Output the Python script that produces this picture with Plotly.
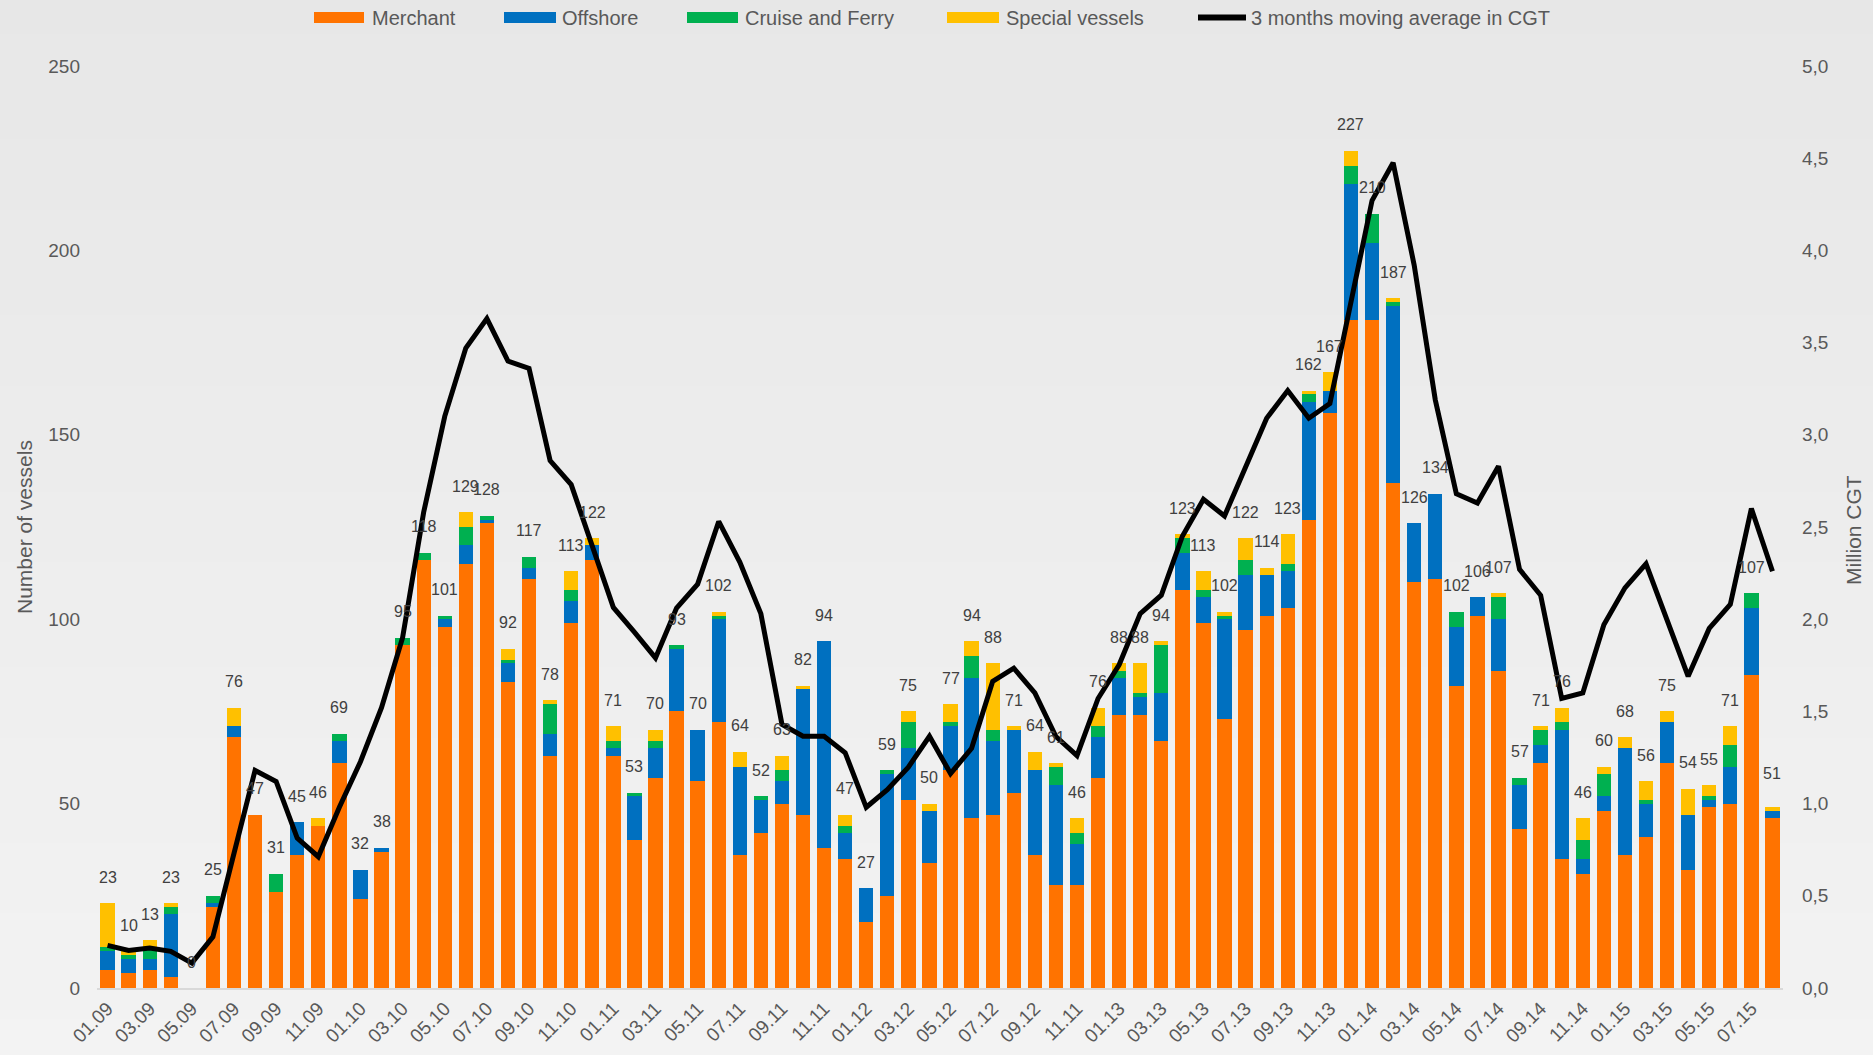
import plotly.graph_objects as go

# ---------------- data ----------------
months = ["01.09","02.09","03.09","04.09","05.09","06.09","07.09","08.09","09.09","10.09","11.09","12.09",
          "01.10","02.10","03.10","04.10","05.10","06.10","07.10","08.10","09.10","10.10","11.10","12.10",
          "01.11","02.11","03.11","04.11","05.11","06.11","07.11","08.11","09.11","10.11","11.11","12.11",
          "01.12","02.12","03.12","04.12","05.12","06.12","07.12","08.12","09.12","10.12","11.12","12.12",
          "01.13","02.13","03.13","04.13","05.13","06.13","07.13","08.13","09.13","10.13","11.13","12.13",
          "01.14","02.14","03.14","04.14","05.14","06.14","07.14","08.14","09.14","10.14","11.14","12.14",
          "01.15","02.15","03.15","04.15","05.15","06.15","07.15","08.15"]

tick_labels = ["01.09","03.09","05.09","07.09","09.09","11.09","01.10","03.10","05.10","07.10",
               "09.10","11.10","01.11","03.11","05.11","07.11","09.11","11.11","01.12","03.12",
               "05.12","07.12","09.12","11.11","01.13","03.13","05.13","07.13","09.13","11.13",
               "01.14","03.14","05.14","07.14","09.14","11.14","01.15","03.15","05.15","07.15"]

merchant = [5,4,5,3,0,22,68,47,26,36,44,61,
            24,37,93,116,98,115,126,83,111,63,99,116,
            63,40,57,75,56,72,36,42,50,47,38,35,
            18,25,51,34,59,46,47,53,36,28,28,57,
            74,74,67,108,99,73,97,101,103,127,156,181,
            181,137,110,111,82,101,86,43,61,35,31,48,
            36,41,61,32,49,50,85,46]
offshore = [5,4,3,17,0,1,3,0,0,9,0,6,
            8,1,0,0,2,5,1,5,3,6,6,4,
            2,12,8,17,14,28,24,9,6,34,56,7,
            9,33,14,14,12,38,20,17,23,27,11,11,
            10,5,13,10,7,27,15,11,10,32,6,37,
            21,48,16,23,16,5,14,12,5,35,4,4,
            29,9,11,15,2,10,18,2]
cruise = [1,1,3,2,0,2,0,0,5,0,0,2,
          0,0,2,2,1,5,1,1,3,8,3,0,
          2,1,2,1,0,1,0,1,3,0,0,2,
          0,1,7,0,1,6,3,0,0,5,3,3,
          2,1,13,4,2,1,4,0,2,2,0,5,
          8,1,0,0,4,0,6,2,4,2,5,6,
          0,1,0,0,1,6,4,0]
special = [12,1,2,1,0,0,5,0,0,0,2,0,
           0,0,0,0,0,4,0,3,0,1,5,2,
           4,0,3,0,0,1,4,0,4,1,0,3,
           0,0,3,2,5,4,18,1,5,1,4,5,
           2,8,1,1,5,1,6,2,8,1,5,4,
           0,1,0,0,0,0,1,0,1,4,6,2,
           3,5,3,7,3,5,0,1]
totals = [23,10,13,23,0,25,76,47,31,45,46,69,
          32,38,95,118,101,129,128,92,117,78,113,122,
          71,53,70,93,70,102,64,52,63,82,94,47,
          27,59,75,50,77,94,88,71,64,61,46,76,
          88,88,94,123,113,102,122,114,123,162,167,227,
          210,187,126,134,102,106,107,57,71,76,46,60,
          68,56,75,54,55,71,107,51]
cgt_avg = [0.231,0.204,0.217,0.199,0.135,0.278,0.73,1.18,1.12,0.813,0.712,0.98,
           1.227,1.52,1.90,2.58,3.10,3.47,3.63,3.40,3.36,2.86,2.73,2.40,
           2.064,1.93,1.79,2.06,2.19,2.53,2.31,2.03,1.43,1.365,1.365,1.276,
           0.98,1.075,1.198,1.365,1.163,1.30,1.663,1.734,1.60,1.364,1.26,1.57,
           1.753,2.03,2.13,2.45,2.65,2.56,2.83,3.09,3.24,3.09,3.17,3.73,
           4.27,4.475,3.92,3.19,2.68,2.63,2.83,2.27,2.13,1.57,1.60,1.97,
           2.17,2.30,1.99,1.69,1.95,2.08,2.60,2.26]

series_names = ["Merchant", "Offshore", "Cruise and Ferry", "Special vessels"]
series_values = [merchant, offshore, cruise, special]
series_colors = ["#FF7300", "#0070C0", "#00B050", "#FFC000"]
line_name = "3 months moving average in CGT"
y_title = "Number of vessels"
y2_title = "Million CGT"

x = list(range(len(months)))
tick_vals = x[::2]

# ---------------- geometry ----------------
W, H = 1873, 1055
PL, PR, PT, PB = 97, 1783, 66, 988
def pxx(v):
    return (v - PL) / (PR - PL)
def pyy(v):
    return (PB - v) / (PB - PT)

TXT = "#595959"
FONT = "Liberation Sans, Arial, sans-serif"

fig = go.Figure()
for name, vals, col in zip(series_names, series_values, series_colors):
    fig.add_trace(go.Bar(x=x, y=vals, name=name, marker=dict(color=col, line=dict(width=0)),
                         width=0.68, showlegend=False, customdata=months,
                         hovertemplate="%{customdata}: %{y}<extra>" + name + "</extra>"))

fig.add_trace(go.Scatter(x=x, y=cgt_avg, name=line_name, mode="lines", yaxis="y2",
                         line=dict(color="black", width=5), showlegend=False))

# data labels (totals)
annotations = []
for i, t in zip(x, totals):
    annotations.append(dict(x=i, y=t, xref="x", yref="y", text=str(t), showarrow=False,
                            yshift=26, yanchor="middle", xanchor="center",
                            font=dict(size=16, color="#404040", family=FONT)))

# axis titles
annotations.append(dict(x=pxx(24), y=pyy(527), xref="paper", yref="paper", text=y_title,
                        textangle=-90, showarrow=False, xanchor="center", yanchor="middle",
                        font=dict(size=21, color=TXT, family=FONT)))
annotations.append(dict(x=pxx(1853), y=pyy(530), xref="paper", yref="paper", text=y2_title,
                        textangle=-90, showarrow=False, xanchor="center", yanchor="middle",
                        font=dict(size=21, color=TXT, family=FONT)))

# background gradient
shapes = []
nb = 30
top_c = (0xE7, 0xE7, 0xE7)
bot_c = (0xF3, 0xF3, 0xF3)
for k in range(nb):
    y0 = k * H / nb
    y1 = (k + 1) * H / nb + 1
    f = (k + 0.5) / nb
    c = tuple(int(round(top_c[j] + (bot_c[j] - top_c[j]) * f)) for j in range(3))
    shapes.append(dict(type="rect", xref="paper", yref="paper", layer="below",
                       x0=pxx(-2), x1=pxx(W + 2), y0=pyy(y1), y1=pyy(y0 - 1),
                       fillcolor="rgb(%d,%d,%d)" % c, line=dict(width=0)))

# custom legend
leg_items = [(314, 364, 370), (504, 556, 560), (687, 738, 743), (947, 999, 1004)]
for (sx0, sx1, tx), name, col in zip(leg_items, series_names, series_colors):
    shapes.append(dict(type="rect", xref="paper", yref="paper", x0=pxx(sx0), x1=pxx(sx1),
                       y0=pyy(23), y1=pyy(12), fillcolor=col, line=dict(width=0)))
    annotations.append(dict(x=pxx(tx), y=pyy(17.5), xref="paper", yref="paper", text=name,
                            showarrow=False, xanchor="left", yanchor="middle",
                            font=dict(size=20, color=TXT, family=FONT)))
shapes.append(dict(type="line", xref="paper", yref="paper", x0=pxx(1198), x1=pxx(1246),
                   y0=pyy(17.5), y1=pyy(17.5), line=dict(color="black", width=6)))
annotations.append(dict(x=pxx(1249), y=pyy(17.5), xref="paper", yref="paper", text=line_name,
                        showarrow=False, xanchor="left", yanchor="middle",
                        font=dict(size=20, color=TXT, family=FONT)))

fig.update_layout(
    width=W, height=H,
    barmode="stack",
    margin=dict(l=PL, r=W - PR, t=PT, b=H - PB, autoexpand=False),
    paper_bgcolor="#eeeeee",
    plot_bgcolor="rgba(0,0,0,0)",
    separators=", ",
    font=dict(family=FONT, color=TXT, size=19),
    showlegend=False,
    xaxis=dict(range=[-0.5, len(x) - 0.5], tickmode="array", tickvals=tick_vals,
               ticktext=tick_labels, tickangle=-45, showgrid=False, zeroline=False,
               showline=True, linecolor="#d9d9d9", linewidth=2, ticks="",
               tickfont=dict(size=19, color=TXT), automargin=False),
    yaxis=dict(range=[0, 250], dtick=50, showgrid=False, zeroline=False, ticks="",
               tickfont=dict(size=19, color=TXT), ticklabelstandoff=16, automargin=False),
    yaxis2=dict(range=[0, 5], dtick=0.5, tickformat=".1f", overlaying="y", side="right",
                showgrid=False, zeroline=False, ticks="", tickfont=dict(size=19, color=TXT),
                ticklabelstandoff=18, automargin=False),
    shapes=shapes,
    annotations=annotations,
)

fig.write_html("out.html", config={"displayModeBar": False},
               post_script="document.body.style.margin='0';document.body.style.overflow='hidden';")
